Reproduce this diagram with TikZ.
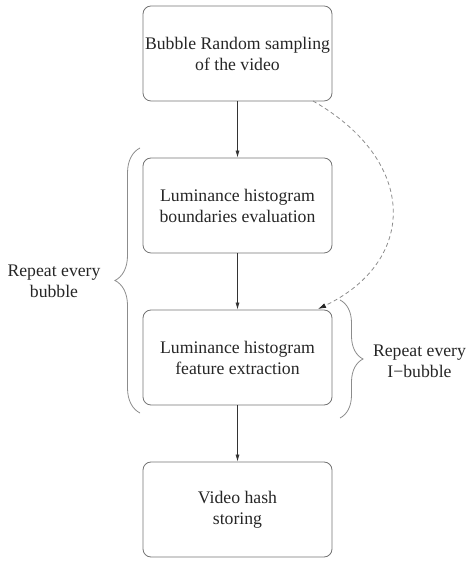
\documentclass[tikz,border=0pt]{standalone}
\usepackage{fontspec}
\setmainfont{Liberation Serif}
\usetikzlibrary{arrows.meta,decorations.pathreplacing}
\begin{document}
\begin{tikzpicture}[x=1pt,y=1pt,
  stepbox/.style={draw=black!55, line width=0.8pt, rounded corners=8pt, minimum width=189pt, minimum height=95pt, align=center, font=\fontsize{17.7}{21}\selectfont, text=black!85, inner sep=0pt},
  flow/.style={draw=black!80, line width=0.6pt, -{Latex[length=7pt,width=4pt]}},
  loop/.style={draw=black!45, line width=0.8pt, dash pattern=on 4pt off 3pt, -{Latex[length=8pt,width=5pt,color=black!85]}},
  bracestyle/.style={draw=black!45, line width=0.8pt, decorate},
  lbl/.style={align=center, font=\fontsize{17.7}{21}\selectfont, text=black!85}
]
\useasboundingbox (0,0) rectangle (466,561);
\node[stepbox] (b1) at (237.5,507.5) {Bubble Random sampling\\of the video};
\node[stepbox] (b2) at (237.5,355.5) {Luminance histogram\\boundaries evaluation};
\node[stepbox] (b3) at (237.5,203.5) {Luminance histogram\\feature extraction};
\node[stepbox] (b4) at (237.5,51.5) {Video hash\\storing};
\draw[flow] (b1) -- (b2);
\draw[flow] (b2) -- (b3);
\draw[flow] (b3) -- (b4);
\coordinate (ds) at (313,460);
\coordinate (de) at (318,252);
\draw[loop] (ds) .. controls (418,400) and (418,300) .. (de);
\coordinate (lb1) at (140,148);
\coordinate (lb2) at (140,413);
\draw[bracestyle, decoration={brace, amplitude=25pt}] (lb1) -- (lb2);
\coordinate (rb1) at (340,261);
\coordinate (rb2) at (340,143);
\draw[bracestyle, decoration={brace, amplitude=23pt}] (rb1) -- (rb2);
\node[lbl] (t1) at (54,280) {Repeat every\\bubble};
\node[lbl] (t2) at (419.5,200) {Repeat every\\I−bubble};
\end{tikzpicture}
\end{document}
